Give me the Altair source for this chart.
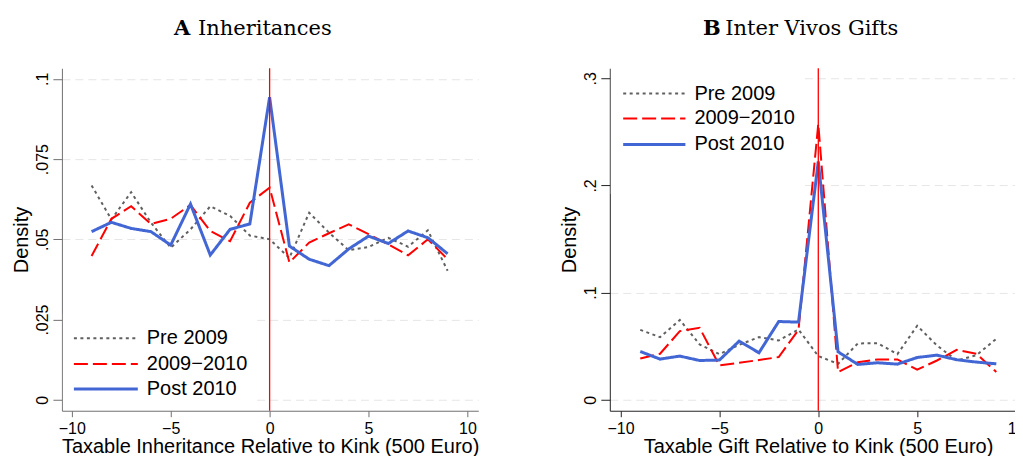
import altair as alt
import pandas as pd

# ---------------- data ----------------
x_bins = list(range(-9, 10))
series_names = ["Pre 2009", "2009\u22122010", "Post 2010"]
kink = 0

inh_pre2009 = [0.0668, 0.0562, 0.0647, 0.0552, 0.0474, 0.0531, 0.0603, 0.0573, 0.0512, 0.0500,
               0.0442, 0.0583, 0.0521, 0.0466, 0.0476, 0.0505, 0.0477, 0.0528, 0.0402]
inh_2009_2010 = [0.0448, 0.0564, 0.0603, 0.0548, 0.0564, 0.0607, 0.0526, 0.0494, 0.0614, 0.0661,
                 0.0428, 0.0490, 0.0519, 0.0547, 0.0516, 0.0484, 0.0450, 0.0500, 0.0438]
inh_post2010 = [0.0524, 0.0553, 0.0534, 0.0524, 0.0482, 0.0610, 0.0451, 0.0531, 0.0548, 0.0943,
                0.0479, 0.0438, 0.0418, 0.0470, 0.0510, 0.0487, 0.0526, 0.0505, 0.0455]

gift_pre2009 = [0.0652, 0.0584, 0.0745, 0.0516, 0.0425, 0.0512, 0.0584, 0.0553, 0.0655, 0.0407,
                0.0335, 0.0525, 0.0528, 0.0425, 0.0690, 0.0506, 0.0366, 0.0416, 0.0568]
gift_2009_2010 = [0.0385, 0.0429, 0.0640, 0.0671, 0.0320, 0.0345, 0.0370, 0.0398, 0.0652, 0.2575,
                  0.0258, 0.0350, 0.0376, 0.0376, 0.0280, 0.0366, 0.0466, 0.0429, 0.0258]
gift_post2010 = [0.0450, 0.0379, 0.0407, 0.0366, 0.0370, 0.0547, 0.0438, 0.0730, 0.0724, 0.2224,
                 0.0447, 0.0329, 0.0345, 0.0332, 0.0394, 0.0416, 0.0373, 0.0351, 0.0335]

inh_yticks = [0, 0.025, 0.05, 0.075, 0.1]
gift_yticks = [0, 0.1, 0.2, 0.3]
x_ticks = [-10, -5, 0, 5, 10]

# ---------------- styles ----------------
colors = ["#606060", "#ff0000", "#4266d4"]
dashes = [[3, 3.5], [14, 5], [1, 0]]
widths = [2, 2, 3]
SANS = "Liberation Sans"
SERIF = "DejaVu Serif"
W, H = 417, 343


def panel(letter, rest, letter_x, rest_x, xtitle, vals, xdom, ydom, yticks,
          leg_x0, leg_x1, leg_tx, leg_rows, box, axis_color):
    x_enc = alt.X("x:Q", scale=alt.Scale(domain=xdom, nice=False, zero=False),
                  axis=alt.Axis(values=x_ticks, title=xtitle, grid=False,
                                tickSize=6, labelPadding=3.5,
                                titleY=42, titleBaseline="alphabetic",
                                labelFont=SANS, titleFont=SANS, labelFontSize=16,
                                titleFontSize=20, titleFontWeight="normal",
                                labelColor="black", titleColor="black",
                                domainColor=axis_color, tickColor=axis_color))
    y_enc = alt.Y("density:Q", scale=alt.Scale(domain=ydom, nice=False, zero=False),
                  axis=alt.Axis(values=yticks, title="Density", grid=True,
                                gridDash=[8, 5], gridColor="#e6e6e6", gridWidth=1,
                                labelAngle=-90, labelAlign="center", labelBaseline="alphabetic",
                                labelExpr="datum.value == 0 ? '0' : substring(format(datum.value, '.3~f'), 1)",
                                tickSize=9, labelPadding=5,
                                titleX=-34, titleY=H / 2, titleAngle=-90,
                                titleAlign="center", titleBaseline="alphabetic",
                                labelFont=SANS, titleFont=SANS, labelFontSize=16,
                                titleFontSize=20, titleFontWeight="normal",
                                labelColor="black", titleColor="black",
                                domainColor=axis_color, tickColor=axis_color))
    layers = []
    # white legend background box (hides grid)
    layers.append(alt.Chart(pd.DataFrame({"b": [0]})).mark_rect(color="white").encode(
        x=alt.value(box[0]), x2=alt.value(box[1]), y=alt.value(box[2]), y2=alt.value(box[3])))
    for i, name in enumerate(series_names):
        df = pd.DataFrame({"x": x_bins, "density": vals[i], "series": name})
        layers.append(alt.Chart(df).mark_line(
            color=colors[i], strokeDash=dashes[i], strokeWidth=widths[i]).encode(x=x_enc, y=y_enc))
    # kink line
    layers.append(alt.Chart(pd.DataFrame({"k": [kink]})).mark_rule(
        color="#ff0000", strokeWidth=1.3).encode(x=alt.X("k:Q")))
    # legend
    for i, name in enumerate(series_names):
        one = pd.DataFrame({"label": [name]})
        layers.append(alt.Chart(one).mark_rule(
            color=colors[i], strokeDash=dashes[i], strokeWidth=widths[i]).encode(
            x=alt.value(leg_x0), x2=alt.value(leg_x1), y=alt.value(leg_rows[i])))
        layers.append(alt.Chart(one).mark_text(
            align="left", baseline="middle", font=SANS, fontSize=20, color="black").encode(
            x=alt.value(leg_tx), y=alt.value(leg_rows[i]), text="label:N"))
    # title (bold letter + normal text)
    t = pd.DataFrame({"a": [letter], "b": [rest]})
    layers.append(alt.Chart(t).mark_text(
        align="left", baseline="alphabetic", font=SERIF, fontSize=21, fontWeight="bold",
        color="black").encode(x=alt.value(letter_x), y=alt.value(-33.5), text="a:N"))
    layers.append(alt.Chart(t).mark_text(
        align="left", baseline="alphabetic", font=SERIF, fontSize=21, fontWeight="normal",
        color="black").encode(x=alt.value(rest_x), y=alt.value(-33.5), text="b:N"))
    return alt.layer(*layers).properties(width=W, height=H)


pa = panel("A", "Inheritances", 112.3, 136.3,
           "Taxable Inheritance Relative to Kink (500 Euro)",
           [inh_pre2009, inh_2009_2010, inh_post2010],
           [-10.5, 10.55], [-0.0034, 0.1033], inh_yticks,
           12, 76, 85, [270.3, 296.3, 321.3], [1, 192, 246, 342], "#707070")

pb = panel("B", "Inter Vivos Gifts", 93.4, 115.7,
           "Taxable Gift Relative to Kink (500 Euro)",
           [gift_pre2009, gift_2009_2010, gift_post2010],
           [-10.54, 10.51], [-0.0103, 0.3094], gift_yticks,
           13.4, 75.7, 84.7, [25.3, 50.3, 76.3], [1, 194, 0, 126], "#222222")

chart = alt.hconcat(pa, pb, spacing=80.7).properties(
    padding={"left": 4, "top": 9, "right": -11.5, "bottom": 5},
    background="white"
).configure_view(stroke=None)

chart.save("out.html", embed_options={"renderer": "svg", "actions": False})
